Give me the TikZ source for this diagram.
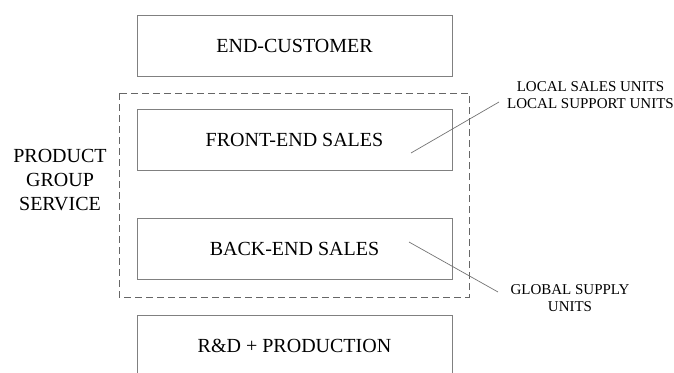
\documentclass[tikz,border=0pt]{standalone}
\usepackage{fontspec}
\setmainfont{Liberation Serif}
\begin{document}
\begin{tikzpicture}[x=1pt,y=-1pt,
  unitbox/.style={draw=black!50,line width=0.9pt,minimum width=315pt,minimum height=61pt,
    inner sep=0pt,font=\fontsize{20}{24}\selectfont,text=black},
  groupframe/.style={draw=black!60,line width=0.9pt,dash pattern=on 7pt off 4pt},
  leader/.style={draw=black!55,line width=0.7pt},
  note/.style={align=center,inner sep=0pt,font=\fontsize{15}{17.5}\selectfont,text=black}]
  \clip (0,0) rectangle (674,372);
  \useasboundingbox (0,0) rectangle (674,372);

  % chain of units
  \node[unitbox] (cust)  at (294.5,45.5)  {END-CUSTOMER};
  \node[unitbox] (front) at (294.5,139.5) {FRONT-END SALES};
  \node[unitbox] (back)  at (294.5,249)   {BACK-END SALES};
  \node[unitbox] (rd)    at (294.5,345.5) {R\&D + PRODUCTION};

  % product group service frame
  \draw[groupframe] (119,93) rectangle (469,297);
  \node[align=center,inner sep=0pt,font=\fontsize{20}{24}\selectfont,text=black]
    (pgs) at (60,180) {PRODUCT\\GROUP\\SERVICE};

  % callouts
  \node[note] (local)  at (590.5,95)  {LOCAL SALES UNITS\\LOCAL SUPPORT UNITS};
  \node[note] (global) at (570,298) {GLOBAL SUPPLY\\UNITS};

  \coordinate (frontpt)  at (411,153);
  \coordinate (localpt)  at (499,102);
  \coordinate (backpt)   at (409,242);
  \coordinate (globalpt) at (498,292);
  \draw[leader] (frontpt) -- (localpt);
  \draw[leader] (backpt) -- (globalpt);
\end{tikzpicture}
\end{document}
